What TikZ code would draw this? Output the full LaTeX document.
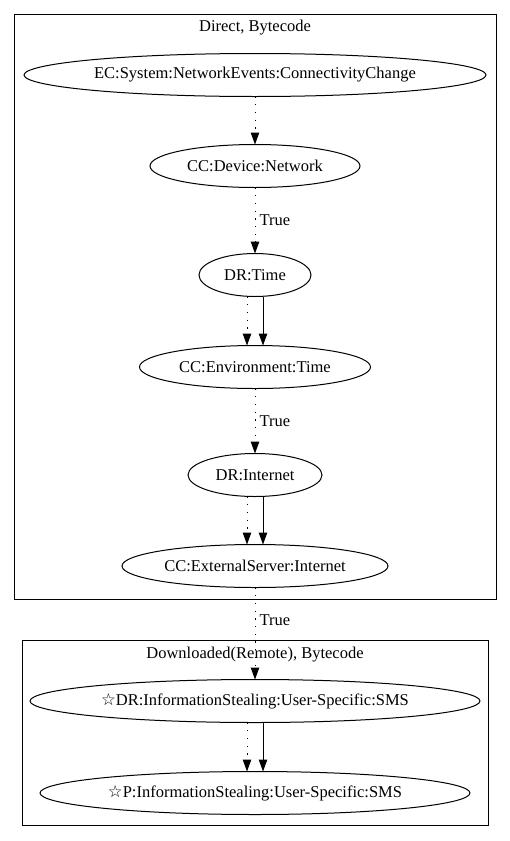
\documentclass[tikz,border=0pt]{standalone}
\usepackage{fontspec}
\setmainfont{Liberation Serif}
\newfontfamily\starfont{DejaVu Sans}
\usetikzlibrary{shapes.geometric, positioning}
\usetikzlibrary{arrows.meta}
\tikzset{>={Triangle[width=8.5pt,length=12pt]}}

\begin{document}
\begin{tikzpicture}[x=1pt, y=1pt, font=\fontsize{16.5}{19}\selectfont, ell/.style={ellipse, draw=black, line width=1pt, minimum height=43pt, inner xsep=-12pt, inner ysep=1pt, outer sep=0pt}, title/.style={draw=none, inner sep=0pt}, cluster/.style={draw=black, line width=1pt}, dep/.style={->, line width=1pt, dash pattern=on 1.2pt off 6.5pt}, ctl/.style={->, line width=1pt}, lbl/.style={right, inner sep=4pt}]
    \useasboundingbox (0,0) rectangle (510,-841);

    %Clusters
    \draw[cluster] (14,-14) rectangle (496,-599);
    \draw[cluster] (22,-640) rectangle (488,-825);
    \node[title](direct) at (255,-28){Direct, Bytecode};
    \node[title](remote) at (255,-655){Downloaded(Remote), Bytecode};

    %Nodes
    \node[ell, minimum width=462pt](ec) at (255,-75){EC:System:NetworkEvents:ConnectivityChange};
    \node[ell, minimum width=210pt](devnet)[below=48pt of ec]{CC:Device:Network};
    \node[ell, minimum width=112pt](drtime)[below=66pt of devnet]{DR:Time};
    \node[ell, minimum width=231pt](envtime)[below=49pt of drtime]{CC:Environment:Time};
    \node[ell, minimum width=134pt](drnet)[below=65pt of envtime]{DR:Internet};
    \node[ell, minimum width=266pt](extnet)[below=48pt of drnet]{CC:ExternalServer:Internet};
    \node[ell, minimum width=450pt](drsms)[below=92pt of extnet]{{\starfont ☆}DR:InformationStealing:User-Specific:SMS};
    \node[ell, minimum width=430pt](psms)[below=49pt of drsms]{{\starfont ☆}P:InformationStealing:User-Specific:SMS};

    %Lines
    \draw[dep] (ec) -- (devnet);
    \draw[dep] (devnet) -- node[lbl]{True} (drtime);
    \draw[dep] ([xshift=-8pt]drtime.south) -- ([xshift=-8pt]envtime.north);
    \draw[ctl] ([xshift=8pt]drtime.south) -- ([xshift=8pt]envtime.north);
    \draw[dep] (envtime) -- node[lbl]{True} (drnet);
    \draw[dep] ([xshift=-8pt]drnet.south) -- ([xshift=-8pt]extnet.north);
    \draw[ctl] ([xshift=8pt]drnet.south) -- ([xshift=8pt]extnet.north);
    \draw[dep] (extnet) -- node[lbl, pos=0.35]{True} (drsms);
    \draw[dep] ([xshift=-8pt]drsms.south) -- ([xshift=-8pt]psms.north);
    \draw[ctl] ([xshift=8pt]drsms.south) -- ([xshift=8pt]psms.north);

\end{tikzpicture}
\end{document}
